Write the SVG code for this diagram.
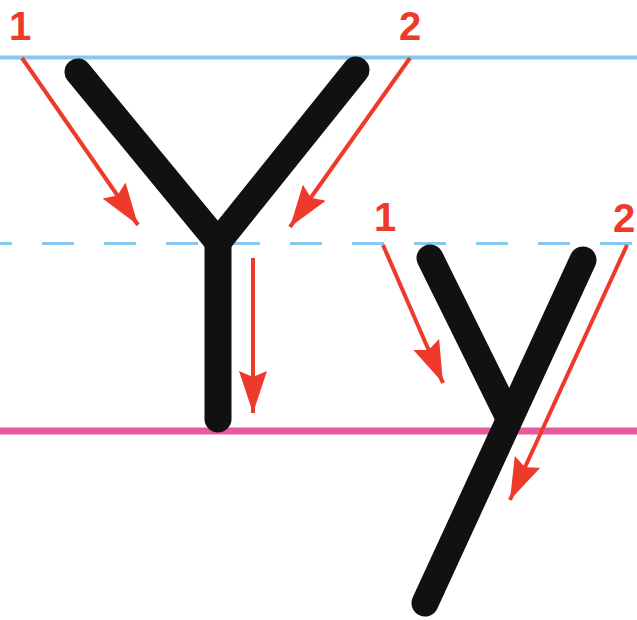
<svg xmlns="http://www.w3.org/2000/svg" width="637" height="620" viewBox="0 0 637 620">
  <style>
    .guide-top { stroke: #86c8ee; stroke-width: 4; }
    .guide-mid { stroke: #86c8ee; stroke-width: 3; stroke-dasharray: 32 30; stroke-dashoffset: 20; }
    .guide-base { stroke: #e85a9e; stroke-width: 7; }
    .letter { fill: none; stroke: #111; stroke-width: 27; stroke-linecap: round; stroke-linejoin: round; }
    .arrow { stroke: #ee3a2a; stroke-width: 4; fill: none; marker-end: url(#head); }
    .num { font-family: "Liberation Sans", Arial, sans-serif; font-weight: bold; font-size: 40px; fill: #ee3a2a; text-anchor: middle; }
  </style>
  <defs>
    <marker id="head" markerUnits="userSpaceOnUse" markerWidth="44" markerHeight="30" refX="42" refY="15" orient="auto">
      <path d="M0,1 L42,15 L0,29 L6,15 z" fill="#ee3a2a"/>
    </marker>
  </defs>
  <rect width="637" height="620" fill="#ffffff"/>
  <g id="guides">
    <line class="guide-top" x1="0" y1="57.5" x2="637" y2="57.5"/>
    <line class="guide-mid" x1="0" y1="243.5" x2="637" y2="243.5"/>
    <line class="guide-base" x1="0" y1="431" x2="637" y2="431"/>
  </g>
  <g id="letter-Y">
    <path class="letter" d="M78,72 L218,242 L356,70"/>
    <path class="letter" d="M218,242 L218,419"/>
  </g>
  <g id="letter-y">
    <path class="letter" d="M430,258 L508,416"/>
    <path class="letter" d="M583,260 L425,603"/>
  </g>
  <g id="connectors">
    <line class="arrow" x1="22" y1="58" x2="138" y2="225"/>
    <line class="arrow" x1="410" y1="58" x2="290" y2="227"/>
    <line class="arrow" x1="253" y1="258" x2="253" y2="413"/>
    <line class="arrow" x1="383" y1="245" x2="443" y2="383"/>
    <line class="arrow" x1="627" y1="245" x2="510" y2="500"/>
  </g>
  <g id="labels">
    <text class="num" x="20" y="40">1</text>
    <text class="num" x="410" y="40">2</text>
    <text class="num" x="385" y="231">1</text>
    <text class="num" x="624" y="232">2</text>
  </g>
</svg>
